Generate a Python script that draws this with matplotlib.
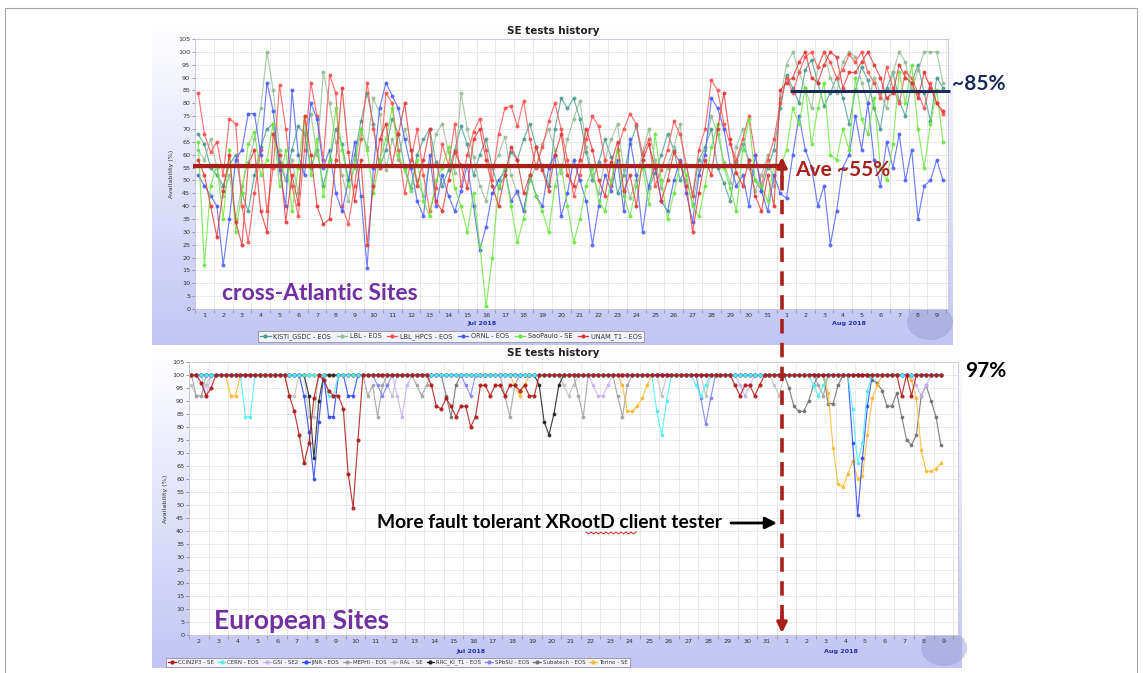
import numpy as np
import matplotlib
matplotlib.use("Agg")
import matplotlib.pyplot as plt
from matplotlib.lines import Line2D
from matplotlib.patches import Ellipse
from matplotlib.colors import to_rgb

# ------------------------------------------------------------------
# Data: availability (%) sampled three times per day, Jul 1 - Aug 9 2018
# ------------------------------------------------------------------
top_day_labels = list(range(1, 32)) + list(range(1, 10))
bottom_day_labels = list(range(2, 32)) + list(range(1, 10))

top_names = ["KISTI_GSDC - EOS", "LBL - EOS", "LBL_HPCS - EOS",
             "ORNL - EOS", "SaoPaulo - SE", "UNAM_T1 - EOS"]
top_colors = ["#4a9a90", "#93bb93", "#ff4d4d", "#4a5cff", "#66e83a", "#e43434"]

kisti = [
    68, 64, 55, 52, 48, 56, 60, 45, 38, 52, 63, 70, 72, 57, 50,
    62, 71, 68, 55, 62, 48, 58, 70, 64, 50, 60, 73, 84, 72, 55,
    62, 74, 68, 55, 47, 60, 66, 70, 57, 48, 54, 62, 71, 64, 52,
    60, 66, 55, 47, 52, 61, 58, 66, 72, 63, 55, 48, 70, 82, 78,
    82, 74, 61, 50, 57, 66, 59, 45, 52, 64, 71, 58, 47, 53, 60,
    68, 62, 50, 56, 44, 58, 63, 70, 55, 49, 42, 57, 64, 58, 50,
    46, 55, 62,
    78, 91, 86, 80, 93, 97, 88, 79, 84, 90, 82, 72, 85, 94, 89,
    78, 70, 86, 92, 81, 75, 88, 95, 84, 73, 90, 86]
lbl = [
    62, 58, 66, 55, 44, 52, 35, 48, 57, 66, 78, 100, 85, 62, 50,
    58, 45, 69, 76, 60, 92, 80, 65, 52, 42, 58, 70, 63, 82, 76,
    54, 66, 58, 70, 62, 50, 44, 56, 68, 72, 61, 53, 84, 70, 59,
    48, 42, 55, 60, 67, 52, 45, 38, 50, 56, 64, 70, 62, 53, 66,
    74, 81, 63, 52, 45, 58, 66, 72, 54, 43, 50, 61, 70, 58, 47,
    55, 63, 72, 50, 41, 54, 62, 75, 68, 57, 49, 63, 70, 55, 46,
    52, 60, 48,
    82, 95, 100, 92, 86, 78, 94, 100, 90, 84, 96, 100, 98, 88, 80,
    90, 84, 78, 92, 100, 96, 85, 93, 100, 100, 100, 88]
lbl_hpcs = [
    84, 68, 61, 65, 52, 74, 72, 40, 26, 45, 62, 38, 55, 87, 70,
    48, 36, 62, 88, 75, 58, 91, 84, 40, 33, 48, 66, 88, 70, 55,
    84, 80, 62, 45, 58, 70, 52, 38, 47, 64, 56, 72, 48, 60, 69,
    74, 62, 50, 68, 78, 79, 71, 81, 66, 55, 63, 73, 80, 70, 58,
    44, 52, 66, 75, 71, 58, 48, 62, 70, 76, 72, 60, 66, 48, 54,
    62, 73, 68, 56, 44, 62, 70, 89, 85, 72, 64, 58, 66, 75, 60,
    48, 58, 66,
    80, 90, 84, 92, 98, 100, 94, 100, 96, 90, 93, 99, 96, 100, 92,
    88, 82, 94, 86, 80, 92, 90, 84, 78, 88, 80, 76]
ornl = [
    52, 48, 44, 40, 17, 35, 58, 62, 76, 76, 60, 88, 77, 54, 40,
    85, 60, 52, 80, 74, 55, 62, 45, 38, 50, 65, 44, 16, 55, 78,
    88, 83, 78, 66, 55, 42, 36, 60, 40, 52, 44, 38, 46, 56, 40,
    23, 32, 45, 50, 54, 42, 46, 38, 52, 44, 40, 55, 60, 36, 45,
    58, 50, 42, 25, 40, 52, 46, 58, 38, 66, 52, 30, 48, 56, 42,
    38, 50, 58, 45, 34, 52, 60, 82, 78, 70, 56, 48, 52, 40, 60,
    46, 38, 52,
    45, 43, 60, 75, 62, 55, 40, 48, 25, 38, 55, 60, 75, 62, 80,
    58, 48, 65, 55, 68, 50, 62, 35, 48, 50, 58, 50]
saopaulo = [
    65, 17, 48, 56, 35, 62, 30, 45, 64, 69, 52, 58, 72, 48, 62,
    38, 55, 75, 52, 66, 44, 58, 78, 62, 48, 55, 70, 62, 45, 58,
    66, 78, 60, 54, 46, 58, 42, 36, 50, 55, 63, 47, 40, 30, 45,
    25, 1, 20, 48, 55, 40, 26, 35, 52, 44, 38, 30, 48, 56, 40,
    26, 35, 48, 55, 42, 38, 50, 62, 44, 36, 48, 55, 41, 68, 50,
    35, 45, 56, 52, 40, 36, 48, 63, 72, 55, 47, 38, 62, 74, 50,
    48, 42, 56,
    55, 62, 78, 72, 86, 64, 78, 88, 60, 58, 70, 62, 90, 74, 68,
    82, 55, 50, 64, 92, 80, 95, 70, 55, 72, 85, 65]
unam = [
    58, 52, 40, 28, 46, 60, 34, 25, 56, 62, 38, 30, 68, 60, 34,
    52, 41, 75, 60, 40, 33, 35, 58, 86, 61, 42, 58, 25, 48, 66,
    72, 56, 68, 80, 62, 48, 58, 70, 42, 38, 50, 61, 56, 47, 66,
    70, 58, 48, 40, 52, 63, 58, 45, 52, 63, 54, 46, 60, 68, 52,
    48, 58, 70, 62, 50, 44, 57, 65, 46, 52, 40, 58, 64, 55, 42,
    50, 61, 57, 48, 30, 45, 58, 52, 70, 84, 66, 53, 48, 58, 44,
    38, 52, 40,
    85, 88, 90, 96, 100, 90, 88, 95, 100, 98, 86, 92, 92, 96, 100,
    95, 90, 82, 84, 95, 90, 88, 82, 92, 86, 80, 77]
top_series = [kisti, lbl, lbl_hpcs, ornl, saopaulo, unam]

# European sites: 6-hourly bins from Jul 2; all bins not listed are at 100 %
n_bottom = 154
bottom_names = ["CCIN2P3 - SE", "CERN - EOS", "GSI - SE2", "JINR - EOS",
                "MEPHI - EOS", "RAL - SE", "RRC_KI_T1 - EOS", "SPbSU - EOS",
                "Subatech - EOS", "Torino - SE"]
bottom_colors = ["#b01818", "#4ff0f0", "#c8b0f0", "#3048ff", "#a0a0a0",
                 "#c0c0c0", "#202020", "#8080f0", "#707070", "#ffb830"]
ccin2p3_dips = {2: 97, 3: 92, 4: 95,
                20: 92, 21: 86, 22: 77, 23: 66, 24: 74, 25: 91, 27: 98, 28: 94,
                29: 92, 30: 92, 31: 87, 32: 62, 33: 49, 34: 75,
                49: 96, 50: 88, 51: 87, 52: 91, 53: 88, 54: 84, 55: 88, 56: 88,
                57: 80, 58: 84, 59: 96, 60: 96, 61: 92, 62: 96, 63: 96, 64: 92,
                65: 96, 66: 96, 67: 94, 68: 96, 69: 92, 70: 92,
                111: 96, 112: 92, 113: 96, 114: 96, 115: 92, 116: 96,
                145: 92, 147: 92}
cern_dips = {11: 84, 12: 84, 28: 92, 29: 92, 95: 86, 96: 77, 97: 90,
             103: 96, 104: 92, 105: 96, 127: 96, 128: 92, 129: 96,
             135: 87, 136: 66, 137: 74, 138: 94}
gsi_dips = {3: 92, 42: 92, 43: 84, 44: 96, 82: 96, 83: 92, 84: 92, 85: 96,
            112: 96, 113: 92, 114: 96, 148: 96, 149: 92, 150: 96}
jinr_dips = {23: 92, 24: 78, 25: 60, 26: 82, 28: 84, 29: 84, 32: 92, 33: 92,
             135: 74, 136: 46, 137: 68, 138: 88}
mephi_dips = {1: 92, 2: 92, 36: 92, 37: 96, 38: 84, 39: 96, 46: 96, 47: 92,
              48: 96, 64: 92, 65: 84, 66: 96, 79: 92, 80: 84, 87: 92, 88: 84,
              89: 96, 128: 96, 129: 92}
ral_dips = {0: 96, 1: 92, 2: 92, 3: 96, 20: 92, 21: 92, 24: 84, 25: 84,
            40: 96, 41: 92, 76: 96, 77: 92, 78: 96, 96: 92, 105: 92,
            119: 96, 120: 92}
rrc_dips = {24: 92, 25: 68, 26: 90, 71: 96, 72: 82, 73: 77, 74: 85, 75: 96}
spbsu_dips = {38: 96, 39: 92, 40: 96, 56: 96, 57: 92, 104: 91, 105: 81, 106: 91}
subatech_dips = {52: 92, 53: 84, 54: 96, 122: 95, 123: 88, 124: 86, 125: 86,
                 126: 90, 127: 96, 130: 89, 131: 89, 132: 96, 139: 98, 140: 97,
                 141: 94, 142: 88, 143: 88, 144: 93, 145: 84, 146: 75, 147: 73,
                 148: 77, 149: 92, 150: 96, 151: 90, 152: 84, 153: 73}
torino_dips = {8: 92, 9: 92, 66: 96, 67: 92, 68: 96, 88: 96, 89: 86, 90: 86,
               91: 88, 92: 91, 93: 96, 130: 93, 131: 72, 132: 58, 133: 57,
               134: 62, 135: 67, 136: 60, 137: 61, 138: 77, 139: 91, 140: 96,
               147: 98, 148: 91, 149: 71, 150: 63, 151: 63, 152: 64, 153: 66}
bottom_dips = [ccin2p3_dips, cern_dips, gsi_dips, jinr_dips, mephi_dips,
               ral_dips, rrc_dips, spbsu_dips, subatech_dips, torino_dips]

# ------------------------------------------------------------------
W, H = 1143, 673
fig = plt.figure(figsize=(W / 100, H / 100), dpi=100)
fig.patch.set_facecolor("white")


def frac(x0, y0, x1, y1):
    return [x0 / W, 1 - y1 / H, (x1 - x0) / W, (y1 - y0) / H]


# background layer: lavender gradient panels
bg = fig.add_axes([0, 0, 1, 1], zorder=0)
bg.axis("off")


def panel(x0, y0, x1, y1):
    s = np.linspace(0, 1, 256)[:, None]
    c0 = np.array([1.0, 1.0, 1.0])
    c1 = np.array(to_rgb("#c2c5f4"))
    grad = (c0 * (1 - s) + c1 * s)[:, None, :]
    bg.imshow(grad, extent=(x0, x1, y1, y0), aspect="auto",
              interpolation="bilinear", zorder=0)


panel(152, 22, 953, 345)
panel(152, 350, 962, 668)
bg.add_patch(Ellipse((930, 322), 46, 36, color="#9096d0", alpha=0.45, lw=0))
bg.add_patch(Ellipse((944, 648), 46, 36, color="#9096d0", alpha=0.45, lw=0))
bg.set_xlim(0, W)
bg.set_ylim(H, 0)


def style_chart(ax, xmax, day_labels):
    ax.set_xlim(0, xmax)
    ax.set_ylim(0, 105)
    ax.set_facecolor("white")
    ax.set_yticks(range(0, 106, 5))
    ax.tick_params(axis="y", labelsize=4.6, length=2, width=0.5,
                   colors="#777777", labelcolor="#333333", pad=1.5)
    ax.set_xticks(np.arange(0, len(day_labels) + 1))
    ax.set_xticklabels([])
    ax.set_xticks(np.arange(len(day_labels)) + 0.5, minor=True)
    ax.set_xticklabels([str(d) for d in day_labels], minor=True)
    ax.tick_params(axis="x", which="major", length=3, width=0.5, colors="#888888")
    ax.tick_params(axis="x", which="minor", length=0, labelsize=4.6,
                   labelcolor="#333333", pad=3)
    ax.grid(True, which="major", color="#e6e6e6", lw=0.6)
    ax.set_axisbelow(True)
    for s in ax.spines.values():
        s.set_color("#c8c8d8")
        s.set_linewidth(0.7)
    ax.set_ylabel("Availability (%)", fontsize=4.6, color="#333333", labelpad=3)


# ---------------- cross-Atlantic chart ----------------
ax1 = fig.add_axes(frac(195, 39, 948, 309), zorder=2)
style_chart(ax1, 40.1, top_day_labels)
t_top = (np.arange(len(kisti)) + 0.5) / 3
for vals, col, name in zip(top_series, top_colors, top_names):
    ax1.plot(t_top, vals, color=col, lw=0.85, marker="o", ms=1.9,
             alpha=0.78, label=name)
ax1.text(15.3, -0.055, "Jul 2018", transform=ax1.get_xaxis_transform(),
         ha="center", va="center", fontsize=4.6, fontweight="bold", color="#2233aa")
ax1.text(34.8, -0.055, "Aug 2018", transform=ax1.get_xaxis_transform(),
         ha="center", va="center", fontsize=4.6, fontweight="bold", color="#2233aa")

# ---------------- European chart ----------------
ax2 = fig.add_axes(frac(189, 362, 958, 635), zorder=2)
style_chart(ax2, 39.25, bottom_day_labels)
t_bot = (np.arange(n_bottom) + 0.5) / 4
draw_order = [5, 4, 8, 2, 7, 9, 6, 3, 1, 0]
for k in draw_order:
    vals = [bottom_dips[k].get(i, 100) for i in range(n_bottom)]
    ax2.plot(t_bot, vals, color=bottom_colors[k], lw=0.85, marker="o",
             ms=1.7 if k else 2.0, alpha=0.85)
ax2.text(14.4, -0.06, "Jul 2018", transform=ax2.get_xaxis_transform(),
         ha="center", va="center", fontsize=4.6, fontweight="bold", color="#2233aa")
ax2.text(33.3, -0.06, "Aug 2018", transform=ax2.get_xaxis_transform(),
         ha="center", va="center", fontsize=4.6, fontweight="bold", color="#2233aa")

# ---------------- legends ----------------
def handles(colors):
    return [Line2D([], [], color=c, lw=0.9, marker="o", ms=2.0) for c in colors]


leg1 = fig.legend(handles(top_colors), top_names, loc="center",
                  bbox_to_anchor=(451 / W, 1 - 336.5 / H), ncol=6, fontsize=4.7,
                  frameon=True, fancybox=False, edgecolor="#808080",
                  handlelength=1.6, handletextpad=0.4, columnspacing=0.85,
                  borderpad=0.3, labelcolor="#333333")
leg1.get_frame().set_linewidth(0.6)
leg2 = fig.legend(handles(bottom_colors), bottom_names, loc="center",
                  bbox_to_anchor=(398 / W, 1 - 662.5 / H), ncol=10, fontsize=4.0,
                  frameon=True, fancybox=False, edgecolor="#808080",
                  handlelength=1.4, handletextpad=0.35, columnspacing=0.7,
                  borderpad=0.3, labelcolor="#333333")
leg2.get_frame().set_linewidth(0.6)

# ---------------- overlay annotations (pixel coordinates) ----------------
ov = fig.add_axes([0, 0, 1, 1], zorder=10)
ov.set_xlim(0, W)
ov.set_ylim(H, 0)
ov.axis("off")
ov.patch.set_alpha(0)

# slide frame
ov.plot([5, 5, 1137, 1137], [H, 8, 8, H], color="#a8a8a8", lw=0.8)

ov.text(553, 31, "SE tests history", ha="center", va="center",
        fontsize=7.5, fontweight="bold", color="#222222")
ov.text(553, 353, "SE tests history", ha="center", va="center",
        fontsize=7.5, fontweight="bold", color="#222222")

red = "#a8201a"
ov.plot([193, 782], [166, 166], color=red, lw=3.0, solid_capstyle="butt")
ov.text(795, 170, "Ave ~55%", ha="left", va="center", fontsize=15,
        fontweight="bold", color=red, family="Lato")
navy = "#1c2a5a"
ov.plot([790, 950], [91, 91], color=navy, lw=2.2, solid_capstyle="butt")
ov.text(952, 84, "~85%", ha="left", va="center", fontsize=15,
        fontweight="bold", color=navy, family="Lato")
ov.text(965, 371, "97%", ha="left", va="center", fontsize=15,
        fontweight="bold", color="black", family="Lato")

# divider between testing periods
ov.plot([782, 782], [176, 620], color=red, lw=2.6, dashes=(4, 2.6))
ov.annotate("", xy=(782, 157), xytext=(782, 178),
            arrowprops=dict(arrowstyle="-|>,head_width=0.3,head_length=0.6",
                            color=red, lw=2.4, shrinkA=0, shrinkB=0))
ov.annotate("", xy=(782, 633), xytext=(782, 612),
            arrowprops=dict(arrowstyle="-|>,head_width=0.3,head_length=0.6",
                            color=red, lw=2.4, shrinkA=0, shrinkB=0))

ov.text(377, 523, "More fault tolerant XRootD client tester", ha="left",
        va="center", fontsize=13.9, fontweight="bold", color="black", family="Lato")
ov.annotate("", xy=(777, 523), xytext=(731, 523),
            arrowprops=dict(arrowstyle="-|>,head_width=0.35,head_length=0.7",
                            color="black", lw=2.0, shrinkA=0, shrinkB=0))
zx = np.arange(586, 638, 2.5)
ov.plot(zx, 533 + np.where(np.arange(len(zx)) % 2 == 0, -1.0, 1.0),
        color="#e02020", lw=0.7)

purple = "#7030a0"
ov.text(222, 293, "cross-Atlantic Sites", ha="left", va="center", fontsize=16.5,
        fontweight="bold", color=purple, family="Lato")
ov.text(214, 621, "European Sites", ha="left", va="center", fontsize=19,
        fontweight="bold", color=purple, family="Lato")

fig.savefig("out.png", dpi=100, facecolor="white")
